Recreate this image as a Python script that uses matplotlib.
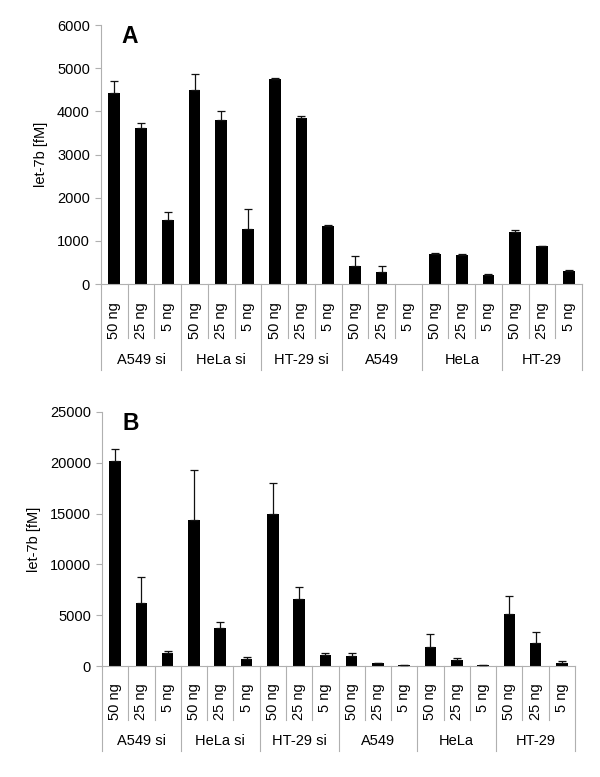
import numpy as np
import matplotlib
matplotlib.use("Agg")
import matplotlib.pyplot as plt
import matplotlib.transforms as mtransforms

plt.rcParams['font.family'] = ['Liberation Sans', 'DejaVu Sans']

groups = ["A549 si", "HeLa si", "HT-29 si", "A549", "HeLa", "HT-29"]
doses = ["50 ng", "25 ng", "5 ng"]

# panel A values (fM) and upper error (nan = no error bar)
vals_a = [4430, 3620, 1490, 4500, 3790, 1270, 4750, 3840, 1350,
          420, 270, 0, 700, 680, 215, 1205, 870, 305]
err_a = [270, 100, 170, 360, 220, 460, 20, 60, 20,
         220, 150, np.nan, 20, 15, 10, 50, 15, 15]

# panel B values (fM) and upper error
vals_b = [20150, 6250, 1340, 14330, 3790, 750, 14950, 6580, 1110,
          1010, 295, 90, 1925, 620, 120, 5100, 2260, 325]
err_b = [1200, 2500, 190, 4900, 590, 160, 3000, 1180, 170,
         260, 40, 20, 1215, 165, 40, 1800, 1080, 170]

GRAY = "#b0b0b0"


def panel(ax, vals, errs, ymax, step, letter, lab_top, small_end, grp_y, grp_end):
    n = len(vals)
    x = np.arange(n)
    ax.bar(x, vals, width=0.44, color="black", zorder=2)
    errs = np.array(errs, dtype=float)
    ok = ~np.isnan(errs)
    ax.errorbar(x[ok], np.array(vals)[ok], yerr=[np.zeros(ok.sum()), errs[ok]],
                fmt="none", ecolor="#111111", elinewidth=0.9, capsize=3,
                capthick=0.9, zorder=3)
    ax.set_xlim(-0.5, n - 0.5)
    ax.set_ylim(0, ymax)
    ax.set_yticks(np.arange(0, ymax + 1, step))
    ax.tick_params(axis="y", direction="out", length=4, width=0.8, color=GRAY,
                   labelsize=10.5, pad=4)
    ax.set_xticks([])
    for s in ["top", "right"]:
        ax.spines[s].set_visible(False)
    for s in ["left", "bottom"]:
        ax.spines[s].set_color(GRAY)
        ax.spines[s].set_linewidth(0.8)
    ax.set_ylabel("let-7b [fM]", fontsize=10.5)

    trans = mtransforms.blended_transform_factory(ax.transData, ax.transAxes)
    for i in range(n + 1):
        xb = i - 0.5
        end = grp_end if i % 3 == 0 else small_end
        ax.plot([xb, xb], [0, end], color=GRAY, lw=0.8, transform=trans, clip_on=False)
    for i in range(n):
        ax.text(i, lab_top, doses[i % 3], rotation=90, ha="center", va="top",
                fontsize=10.5, transform=trans)
    for g, name in enumerate(groups):
        ax.text(3 * g + 1, grp_y, name, ha="center", va="center",
                fontsize=10.5, transform=trans)
    ax.text(0.06, 0.955, letter, transform=ax.transAxes, ha="center", va="center",
            fontsize=16.5, fontweight="bold")


fig = plt.figure(figsize=(6, 7.77), dpi=100)
H = 777.0
ax_a = fig.add_axes([101 / 600, 1 - 284 / H, 481 / 600, 259 / H])
ax_b = fig.add_axes([102 / 600, 1 - 666.3 / H, 473 / 600, 254.6 / H])

panel(ax_a, vals_a, err_a, 6000, 1000, "A",
      -(302 - 284) / 259, -(338 - 284) / 259, -(360 - 284) / 259, -(370 - 284) / 259)
panel(ax_b, vals_b, err_b, 25000, 5000, "B",
      -(683 - 666.3) / 254.6, -(720 - 666.3) / 254.6, -(741 - 666.3) / 254.6,
      -(751 - 666.3) / 254.6)

ax_a.yaxis.set_label_coords(-0.11, 0.5)
ax_b.yaxis.set_label_coords(-0.128, 0.5)

fig.savefig("out.png", dpi=100, facecolor="white")
